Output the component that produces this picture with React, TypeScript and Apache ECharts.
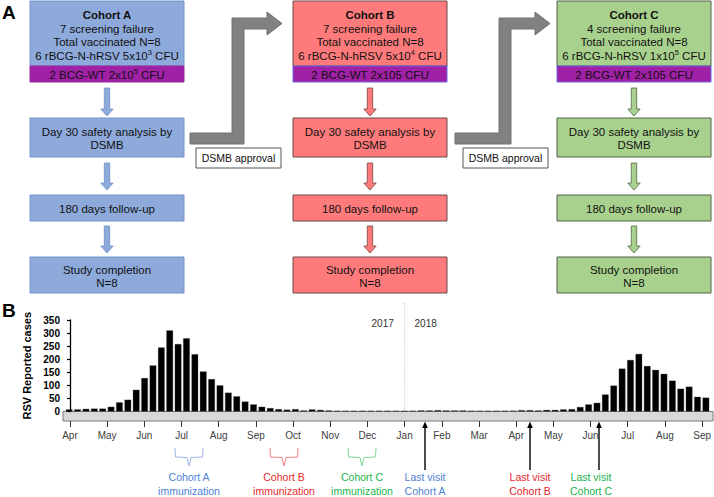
import React, { useEffect, useRef } from 'react';
import * as echarts from 'echarts';

// Epidemiological weeks: 2017 W13..W52 then 2018 W1..W37
const weeks2017: number[] = Array.from({ length: 40 }, (_, i) => 13 + i);
const weeks2018: number[] = Array.from({ length: 37 }, (_, i) => 1 + i);
const weekLabels: string[] = [
  ...weeks2017.map((w) => `2017-W${w}`),
  ...weeks2018.map((w) => `2018-W${w}`),
];

// RSV reported cases per week
const rsvCases: number[] = [
  8, 8, 10, 11, 11, 18, 35, 45, 83, 128, 176, 245, 310, 258, 280, 219, 153, 124, 100, 72,
  58, 38, 27, 18, 13, 9, 7, 9, 4, 8, 6, 4,
  3, 3, 3, 3, 3, 3, 3, 3,
  3, 3, 4, 4, 5, 4, 4, 4, 3, 3, 3, 3, 3, 3, 5, 5, 4, 6,
  6, 8, 9, 17, 27, 33, 65, 99, 164, 197, 220, 174, 159, 144, 118, 87, 95, 56, 53,
];

const monthLabels: string[] = [
  'Apr', 'May', 'Jun', 'Jul', 'Aug', 'Sep', 'Oct', 'Nov', 'Dec',
  'Jan', 'Feb', 'Mar', 'Apr', 'May', 'Jun', 'Jul', 'Aug', 'Sep',
];
const monthTickValues: number[] = monthLabels.map((_, i) => i);
const yearBoundaryMonth = 9; // Jan 2018
const yearLabels: string[] = ['2017', '2018'];

const FONT = '"Liberation Sans", Arial, sans-serif';

const cohorts = [
  {
    name: 'Cohort A', fail: '7 screening failure', total: 'Total vaccinated N=8',
    dose: '6 rBCG-N-hRSV 5x10{sup|3} CFU', bcg: '2 BCG-WT 2x10{sup|5} CFU',
    fill: '#8eaadb', stroke: '#7392cf', arrowStroke: '#6f8fcc', bandStroke: '#9a2aa2',
  },
  {
    name: 'Cohort B', fail: '7 screening failure', total: 'Total vaccinated N=8',
    dose: '6 rBCG-N-hRSV 5x10{sup|4} CFU', bcg: '2 BCG-WT 2x105 CFU',
    fill: '#ff7b7b', stroke: '#6a4a4a', arrowStroke: '#7a4040', bandStroke: '#6a66e0',
  },
  {
    name: 'Cohort C', fail: '4 screening failure', total: 'Total vaccinated N=8',
    dose: '6 rBCG-N-hRSV 1x10{sup|5} CFU', bcg: '2 BCG-WT 2x105 CFU',
    fill: '#a9d18e', stroke: '#55634c', arrowStroke: '#4e6444', bandStroke: '#6a66e0',
  },
];

const annotations = [
  { l1: 'Cohort A', l2: 'immunization', color: '#4f7fd6', brace: '#9db5e8', x: 189 },
  { l1: 'Cohort B', l2: 'immunization', color: '#e3262b', brace: '#f08080', x: 284 },
  { l1: 'Cohort C', l2: 'immunization', color: '#22b24c', brace: '#7fd69a', x: 362 },
];
const lastVisits = [
  { l1: 'Last visit', l2: 'Cohort A', color: '#4f7fd6', x: 425, tx: 425 },
  { l1: 'Last visit', l2: 'Cohort B', color: '#e3262b', x: 530, tx: 530 },
  { l1: 'Last visit', l2: 'Cohort C', color: '#22b24c', x: 599, tx: 591 },
];

function txt(x: number, y: number, text: string, o: any = {}) {
  return {
    type: 'text', x, y, silent: true, z: 10,
    style: {
      text,
      fill: o.fill || '#111',
      fontSize: o.size || 11.5,
      fontFamily: o.family || FONT,
      fontWeight: o.bold ? 'bold' : 'normal',
      align: o.align || 'center',
      verticalAlign: 'middle',
      textAlign: o.align || 'center',
      textVerticalAlign: 'middle',
      rich: o.rich,
    },
  };
}

function downArrow(cx: number, y0: number, y1: number, fill: string, stroke: string) {
  const sw = 2.7, hw = 6.2, hh = 7;
  return {
    type: 'polygon', silent: true,
    shape: {
      points: [
        [cx - sw, y0], [cx + sw, y0], [cx + sw, y1 - hh], [cx + hw, y1 - hh],
        [cx, y1], [cx - hw, y1 - hh], [cx - sw, y1 - hh],
      ],
    },
    style: { fill, stroke, lineWidth: 0.8 },
  };
}

function box(x: number, y: number, w: number, h: number, fill: string, stroke: string) {
  return { type: 'rect', silent: true, shape: { x, y, width: w, height: h }, style: { fill, stroke, lineWidth: 1 } };
}

function buildGraphics(yearX: number, baseY: number) {
  const els: any[] = [];
  const colX = [30, 293, 557];
  const W = 154;
  cohorts.forEach((c, i) => {
    const x = colX[i];
    const cx = x + W / 2;
    els.push(box(x, 1, W, 65, c.fill, c.stroke));
    els.push(box(x, 66, W, 16, '#a020a6', c.bandStroke));
    els.push(txt(cx, 15, c.name, { bold: true }));
    els.push(txt(cx, 28.5, c.fail));
    els.push(txt(cx, 42, c.total));
    const rich = {
      sup: { fontSize: 7.5, fontFamily: FONT, fill: '#111', verticalAlign: 'top', lineHeight: 14, padding: [0, 0, 5, 0] },
    };
    els.push(txt(cx, 55.5, c.dose, { rich }));
    els.push(txt(cx, 74.5, c.bcg, { rich }));
    els.push(downArrow(cx, 88, 116, c.fill, c.arrowStroke));
    els.push(box(x, 118, W, 39, c.fill, c.stroke));
    els.push(txt(cx, 132, 'Day 30 safety analysis by'));
    els.push(txt(cx, 145, 'DSMB'));
    els.push(downArrow(cx, 163, 190, c.fill, c.arrowStroke));
    els.push(box(x, 195, W, 26, c.fill, c.stroke));
    els.push(txt(cx, 208.5, '180 days follow-up'));
    els.push(downArrow(cx, 226, 253, c.fill, c.arrowStroke));
    els.push(box(x, 257, W, 36, c.fill, c.stroke));
    els.push(txt(cx, 269.5, 'Study completion'));
    els.push(txt(cx, 282.5, 'N=8'));
  });

  // gray connectors
  const conn = (x0: number, vx: number, ab: number, tip: number) => ({
    type: 'polygon', silent: true,
    shape: {
      points: [
        [x0, 133], [vx, 133], [vx, 18], [ab, 18], [ab, 12], [tip, 23.5], [ab, 35], [ab, 29],
        [vx + 12, 29], [vx + 12, 144], [x0, 144],
      ],
    },
    style: { fill: '#818181', stroke: '#737373', lineWidth: 1, lineJoin: 'round' },
  });
  els.push(conn(190, 232, 267, 282));
  els.push(conn(455, 499, 535, 550));
  els.push(box(196, 148, 85, 20, '#ffffff', '#555555'));
  els.push(txt(238.5, 158, 'DSMB approval', { size: 10.5 }));
  els.push(box(463, 148, 85, 20, '#ffffff', '#555555'));
  els.push(txt(505.5, 158, 'DSMB approval', { size: 10.5 }));

  // panel letters
  els.push(txt(2, 12, 'A', { bold: true, size: 19, align: 'left', fill: '#000' }));
  els.push(txt(2, 310, 'B', { bold: true, size: 19, align: 'left', fill: '#000' }));

  // gray band under bars
  els.push({
    type: 'rect', silent: true, z: -1,
    shape: { x: 63, y: baseY, width: 650, height: 9.5 },
    style: { fill: '#d9d9d9', stroke: '#7a7a7a', lineWidth: 1 },
  });

  // year divider and labels
  els.push({
    type: 'line', silent: true,
    shape: { x1: yearX, y1: 303, x2: yearX, y2: baseY },
    style: { stroke: '#c4c4c4', lineWidth: 1, lineDash: [1, 1.5] },
  });
  els.push(txt(yearX - 22, 323, yearLabels[0], { size: 10, fill: '#333' }));
  els.push(txt(yearX + 21, 323, yearLabels[1], { size: 10, fill: '#333' }));

  // immunization braces & labels
  annotations.forEach((a) => {
    const cx = a.x;
    els.push({
      type: 'polyline', silent: true,
      shape: {
        points: [
          [cx - 14, 448], [cx - 13.5, 457], [cx - 2, 457.5], [cx, 466], [cx + 2, 457.5], [cx + 13.5, 457], [cx + 14, 448],
        ],
      },
      style: { stroke: a.brace, lineWidth: 1, fill: null },
    });
    els.push(txt(cx, 477, a.l1, { size: 10.5, fill: a.color }));
    els.push(txt(cx, 491, a.l2, { size: 10.5, fill: a.color }));
  });
  lastVisits.forEach((a) => {
    els.push({
      type: 'line', silent: true,
      shape: { x1: a.x, y1: 470, x2: a.x, y2: 426 },
      style: { stroke: '#000', lineWidth: 1.4 },
    });
    els.push({
      type: 'polygon', silent: true,
      shape: { points: [[a.x - 2.8, 428], [a.x, 421.5], [a.x + 2.8, 428]] },
      style: { fill: '#000' },
    });
    els.push(txt(a.tx, 477, a.l1, { size: 10.5, fill: a.color }));
    els.push(txt(a.tx, 491, a.l2, { size: 10.5, fill: a.color }));
  });
  return els;
}

export default function App() {
  const ref = useRef<HTMLDivElement>(null);
  useEffect(() => {
    if (!ref.current) return;
    const chart = echarts.init(ref.current, null, { renderer: 'svg' });
    const pxPerMonth = (705 - 70) / 17;
    chart.setOption({
      animation: false,
      backgroundColor: '#ffffff',
      grid: { left: 65, right: 1, top: 320, bottom: 85.5, containLabel: false },
      xAxis: [
        {
          type: 'category',
          data: weekLabels,
          axisLine: { show: false },
          axisTick: { show: false },
          axisLabel: { show: false },
          splitLine: { show: false },
        },
        {
          type: 'value',
          position: 'bottom',
          offset: 9.5,
          min: -(70 - 65) / pxPerMonth,
          max: 17 + (713 - 705) / pxPerMonth,
          axisLine: { show: false },
          splitLine: { show: false },
          axisTick: { show: true, length: 6, customValues: monthTickValues, lineStyle: { color: '#333', width: 1 } },
          axisLabel: {
            show: true,
            customValues: monthTickValues,
            margin: 9,
            color: '#404040',
            fontSize: 10,
            fontFamily: FONT,
            formatter: (v: number) => monthLabels[Math.round(v)] ?? '',
          },
        },
      ],
      yAxis: {
        type: 'value',
        min: 0,
        max: 350,
        interval: 50,
        offset: 2,
        name: 'RSV Reported cases',
        nameLocation: 'middle',
        nameGap: 26,
        nameTextStyle: { fontWeight: 'bold', fontSize: 11, fontFamily: FONT, color: '#000' },
        axisLine: { show: true, lineStyle: { color: '#000', width: 1.3 } },
        axisTick: { show: true, length: 3, lineStyle: { color: '#000', width: 1.2 } },
        axisLabel: { fontWeight: 'bold', fontSize: 10, fontFamily: FONT, color: '#000', margin: 3 },
        splitLine: { show: false },
      },
      series: [
        {
          type: 'bar',
          data: rsvCases,
          xAxisIndex: 0,
          yAxisIndex: 0,
          barCategoryGap: '21%',
          itemStyle: { color: '#000', borderColor: '#555', borderWidth: 0.3 },
        },
      ],
    });
    const yearX = chart.convertToPixel({ xAxisIndex: 1 }, yearBoundaryMonth) as number;
    const baseY = chart.convertToPixel({ yAxisIndex: 0 }, 0) as number;
    chart.setOption({ graphic: { elements: buildGraphics(yearX, baseY) } });
    return () => chart.dispose();
  }, []);
  return (
    <div
      ref={ref}
      style={{ position: 'absolute', left: 0, top: 0, width: 714, height: 497, background: '#fff' }}
    />
  );
}
